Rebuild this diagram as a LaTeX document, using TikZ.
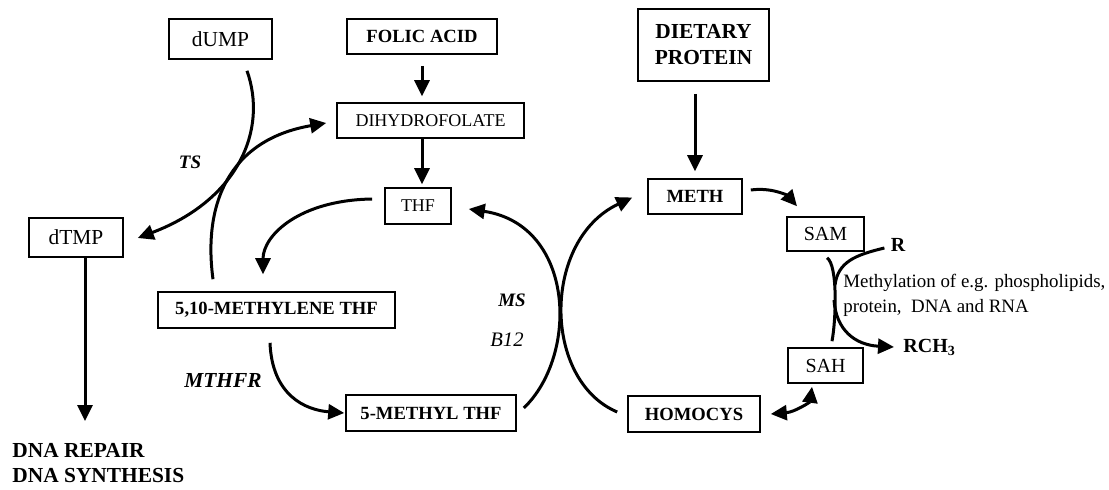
\documentclass[tikz,border=0pt]{standalone}
\usepackage{fontspec}
\setmainfont{Liberation Serif}
\usetikzlibrary{arrows.meta, positioning}

\tikzset{
	box/.style = {draw, line width=0.8pt, inner sep=0pt, minimum height=17.5pt},
	rmbox/.style = {box, font=\fontsize{9}{11}\selectfont},
	bfbox/.style = {box, font=\fontsize{9.3}{11}\selectfont\bfseries},
	flow/.style = {line width=1.5pt, -{Triangle[length=8pt, width=7.5pt]}},
	bothflow/.style = {line width=1.5pt, {Triangle[length=8pt, width=7.5pt]}-{Triangle[length=8pt, width=7.5pt]}},
	curve/.style = {line width=1.5pt},
	enzyme/.style = {inner sep=0pt, font=\fontsize{9.5}{11}\selectfont\bfseries\itshape}
}

\begin{document}
\begin{tikzpicture}[x=0.5pt, y=-0.5pt]
			\useasboundingbox (0,0) rectangle (1109,489);
			
			\draw
			(220.5,39) node[rmbox, minimum width=51.5pt, minimum height=20pt, font=\fontsize{10.7}{12}\selectfont] (dUMP) {dUMP}
			(422,36.5) node[bfbox, minimum width=75pt] (folic) {FOLIC ACID}
			(430.5,120.5) node[rmbox, minimum width=93.5pt] (dhf) {DIHYDROFOLATE}
			(418,206) node[rmbox, minimum width=33pt, minimum height=18pt] (thf) {THF}
			(703.5,45) node[bfbox, minimum width=65.5pt, minimum height=36pt, align=center, font=\fontsize{10.7}{13}\selectfont\bfseries] (diet) {DIETARY\\PROTEIN}
			(695,196.5) node[bfbox, minimum width=47pt] (meth) {METH}
			(76,237.5) node[rmbox, minimum width=47pt, minimum height=19.5pt, font=\fontsize{10.7}{12}\selectfont] (dTMP) {dTMP}
			(276.5,310) node[bfbox, minimum width=118.5pt, minimum height=18pt] (mthf) {5,10-METHYLENE THF}
			(431,413) node[bfbox, minimum width=85pt, minimum height=18pt] (methyl) {5-METHYL THF}
			(694,414) node[bfbox, minimum width=66pt, minimum height=18pt] (homocys) {HOMOCYS}
			(825.5,234) node[rmbox, minimum width=38.5pt, minimum height=17pt, font=\fontsize{10}{12}\selectfont] (sam) {SAM}
			(825.5,365.5) node[rmbox, minimum width=37.5pt, minimum height=17.5pt, font=\fontsize{10}{12}\selectfont] (sah) {SAH}
			
			(12,443) node[anchor=north west, inner sep=0pt, align=left, font=\fontsize{10.7}{12.5}\selectfont\bfseries] (dna) {DNA REPAIR\\DNA SYNTHESIS}
			(190,162) node[enzyme] (ts) {TS}
			(223,380) node[enzyme, font=\fontsize{10.7}{12}\selectfont\bfseries\itshape] (mthfr) {MTHFR}
			(512,300) node[enzyme] (ms) {MS}
			(507,340) node[inner sep=0pt, font=\fontsize{10.3}{12}\selectfont\itshape] (b12) {B12}
			(898,245) node[inner sep=0pt, font=\fontsize{10}{12}\selectfont\bfseries] (rgrp) {R}
			(903,347) node[anchor=west, inner sep=0pt, font=\fontsize{10}{12}\selectfont\bfseries] (rch) {RCH\textsubscript{3}}
			(843,295) node[anchor=west, inner sep=0pt, align=left, font=\fontsize{9.45}{12.5}\selectfont] (mtext) {Methylation of e.g. phospholipids,\\protein,\ \ DNA and RNA};
			
			% straight steps
			\draw[flow, shorten <=5.5pt, shorten >=3pt] (folic.south) -- (folic.south |- dhf.north);
			\draw[flow, shorten >=1.5pt] (dhf.south -| folic.south) -- (folic.south |- thf.north);
			\draw[flow, shorten <=6pt, shorten >=3.5pt] (meth.north |- diet.south) -- (meth.north);
			\draw[flow, shorten >=11pt] ([xshift=4.5pt]dTMP.south) -- ([xshift=4.5pt]dTMP.south |- dna.north);
			
			% thymidylate synthase crossing
			\draw[flow] ([shift={(26.5,11)}]dUMP.south) .. controls (268,130) and (238,200) .. ([shift={(14,0.5)}]dTMP.east);
			\draw[flow] ([shift={(-63.5,-12)}]mthf.north) .. controls (203,205) and (228,140) .. ([shift={(-10,2.5)}]dhf.west);
			
			% folate cycle
			\draw[flow] ([shift={(-12,-7)}]thf.west) .. controls (300,200) and (263,235) .. ([shift={(-13.5,-17)}]mthf.north);
			\draw[flow] ([shift={(-6.5,14)}]mthf.south) .. controls (272,395) and (305,410) .. ([shift={(-1,0)}]methyl.west);
			\draw[flow] ([shift={(7,-5)}]methyl.east) .. controls (579,355) and (575,225) .. ([shift={(17,3)}]thf.east);
			
			% methionine cycle
			\draw[flow] ([shift={(-10,-2)}]homocys.west) .. controls (542,380) and (542,240) .. ([shift={(-15,1)}]meth.west);
			\draw[flow] ([shift={(8,-6.5)}]meth.east) .. controls (772,187) and (788,196) .. ([shift={(-28.5,-10)}]sam.north);
			\draw[bothflow] ([shift={(10,0)}]homocys.east) .. controls (795,412) and (810,402) .. ([shift={(-13.5,3)}]sah.south);
			
			% methyl transfer
			\coordinate (rjoin) at (835,285);
			\coordinate (rsplit) at (834,300);
			\draw[curve] ([shift={(1.5,6)}]sam.south) .. controls (838,265) and (836,320) .. ([shift={(6.5,-6)}]sah.north);
			\draw[curve] ([shift={(-6,3)}]rgrp.west) .. controls (855,255) and (838,262) .. (rjoin);
			\draw[flow] (rsplit) .. controls (836,330) and (855,345) .. ([shift={(-9,0)}]rch.west);
\end{tikzpicture}
\end{document}
